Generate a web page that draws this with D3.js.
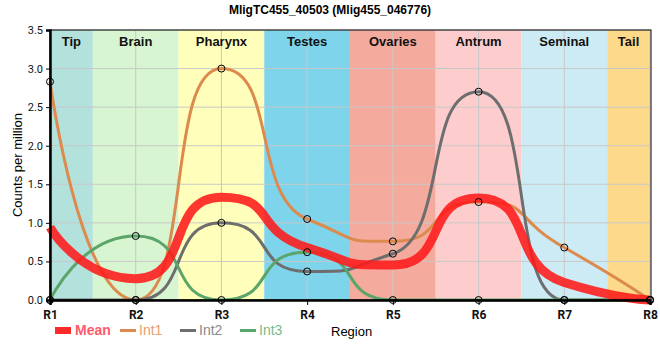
<!DOCTYPE html>
<html>
<head>
<meta charset="utf-8">
<title>MligTC455_40503</title>
<script src="https://d3js.org/d3.v7.min.js"></script>
<style>
  body { margin: 0; background: #fff; }
  text { font-family: "Liberation Sans", Arial, sans-serif; }
  .tick text { font-family: Roboto, "Liberation Sans", sans-serif; }
</style>
</head>
<body>
<script>
    // data
    let regions = ["R1", "R2", "R3", "R4", "R5", "R6", "R7", "R8"];
    let int1 = [2.83, 0.0, 3.0, 1.05, 0.76, 1.27, 0.68, 0.0];
    let int2 = [0.0, 0.0, 1.0, 0.37, 0.60, 2.70, 0.0, 0.0];
    let int3 = [0.0, 0.83, 0.0, 0.62, 0.0, 0.0, 0.0, 0.0];
    let mean = regions.map((r, i) => (int1[i] + int2[i] + int3[i]) / 3);

    let tissues = ["Tip", "Brain", "Pharynx", "Testes", "Ovaries", "Antrum", "Seminal", "Tail"];
    let tissueStart = [1, 1.5, 2.5, 3.5, 4.5, 5.5, 6.5, 7.5];
    let tissueEnd = [1.5, 2.5, 3.5, 4.5, 5.5, 6.5, 7.5, 8];
    let tissueColors = ["#b3e2dd", "#d6f5d0", "#ffffbb", "#7dd4eb", "#f4ab9d", "#fdcdcd", "#cdebf5", "#fdda8b"];

    let yTicks = [0, 0.5, 1, 1.5, 2, 2.5, 3, 3.5];

    let series = [
        {name: "Int1", values: int1, color: "#dd8a4e", text: "#e8a06e"},
        {name: "Int2", values: int2, color: "#6e6e6e", text: "#8a8a8a"},
        {name: "Int3", values: int3, color: "#5ba46a", text: "#7cb88a"}
    ];

    let width = 660, height = 360;
    let mLeft = 50, mRight = 650, mTop = 30, mBottom = 300;
    let handle = 0.65;   // control point distance, share of the step

    let svg = d3.select("body").append("svg")
        .attr("width", width)
        .attr("height", height);

    let x = d3.scaleLinear().domain([1, 8]).range([mLeft, mRight]);
    let y = d3.scaleLinear().domain([0, 3.5]).range([mBottom, mTop]);

    // smooth spline, control points kept between neighbours so peaks stay on the points
    function spline(values) {
        let pts = values.map((v, i) => [x(i + 1), y(v)]);
        let n = pts.length, lc = [], rc = [];
        rc[0] = pts[0];
        lc[n - 1] = pts[n - 1];
        for (let i = 1; i < n - 1; i++) {
            let [ax, ay] = pts[i - 1], [px, py] = pts[i], [bx, by] = pts[i + 1];
            let lx = px - handle * (px - ax), rx = px + handle * (bx - px);
            let slope = (by - ay) / (bx - ax);
            let ly = py - slope * (px - lx), ry = py + slope * (rx - px);
            if (ly > ay && ly > py) { ly = Math.max(ay, py); ry = 2 * py - ly; }
            else if (ly < ay && ly < py) { ly = Math.min(ay, py); ry = 2 * py - ly; }
            if (ry > by && ry > py) { ry = Math.max(by, py); ly = 2 * py - ry; }
            else if (ry < by && ry < py) { ry = Math.min(by, py); ly = 2 * py - ry; }
            lc[i] = [lx, ly];
            rc[i] = [rx, ry];
        }
        let p = d3.path();
        p.moveTo(pts[0][0], pts[0][1]);
        for (let i = 1; i < n; i++) {
            p.bezierCurveTo(rc[i - 1][0], rc[i - 1][1], lc[i][0], lc[i][1], pts[i][0], pts[i][1]);
        }
        return p.toString();
    }

    // tissue bands
    svg.append("g")
        .selectAll("rect")
        .data(tissues)
        .join("rect")
            .attr("x", (d, i) => x(tissueStart[i]))
            .attr("y", mTop)
            .attr("width", (d, i) => x(tissueEnd[i]) - x(tissueStart[i]))
            .attr("height", mBottom - mTop)
            .attr("fill", (d, i) => tissueColors[i]);

    // grid
    svg.append("g")
        .selectAll("line")
        .data(yTicks)
        .join("line")
            .attr("x1", mLeft).attr("x2", mRight)
            .attr("y1", d => y(d)).attr("y2", d => y(d))
            .attr("stroke", "#c8c8c8").attr("stroke-width", 1);
    svg.append("g")
        .selectAll("line")
        .data(regions)
        .join("line")
            .attr("x1", (d, i) => x(i + 1)).attr("x2", (d, i) => x(i + 1))
            .attr("y1", mTop).attr("y2", mBottom)
            .attr("stroke", "#c8c8c8").attr("stroke-width", 1);

    // band labels
    svg.append("g")
        .selectAll("text")
        .data(tissues)
        .join("text")
            .attr("x", (d, i) => (x(tissueStart[i]) + x(tissueEnd[i])) / 2)
            .attr("y", 46)
            .attr("text-anchor", "middle")
            .style("font-size", "13px")
            .style("font-weight", "bold")
            .attr("fill", "#111")
            .text(d => d);

    svg.append("g")
        .selectAll("path")
        .data(series)
        .join("path")
            .attr("d", d => spline(d.values))
            .attr("fill", "none")
            .attr("stroke", d => d.color)
            .attr("stroke-width", 3);

    svg.append("path")
        .attr("d", spline(mean))
        .attr("fill", "none")
        .attr("stroke", "#ff1a1a")
        .attr("stroke-opacity", 0.88)
        .attr("stroke-width", 9);

    // frame
    svg.append("rect")
        .attr("x", mLeft).attr("y", mTop)
        .attr("width", mRight - mLeft + 1).attr("height", mBottom - mTop)
        .attr("fill", "none").attr("stroke", "#000").attr("stroke-width", 1);

    // axes
    let xAxis = svg.append("g")
        .attr("transform", `translate(0,${mBottom})`)
        .call(d3.axisBottom(x).tickValues(d3.range(1, 9)).tickFormat((d, i) => regions[i]).tickSize(5));
    xAxis.select(".domain").attr("stroke-width", 2.5);
    xAxis.selectAll(".tick text").style("font-size", "12px").style("font-weight", "bold").attr("fill", "#111").attr("dy", "0.9em");

    let yAxis = svg.append("g")
        .attr("transform", `translate(${mLeft},0)`)
        .call(d3.axisLeft(y).tickValues(yTicks).tickFormat(d3.format(".1f")).tickSize(4));
    yAxis.select(".domain").attr("stroke-width", 2.5);
    yAxis.selectAll(".tick text").style("font-size", "11px").attr("fill", "#111");

    // points
    series.forEach(s => {
        svg.append("g")
            .selectAll("circle")
            .data(s.values)
            .join("circle")
                .attr("cx", (d, i) => x(i + 1))
                .attr("cy", d => y(d))
                .attr("r", 3.5)
                .attr("fill", "none")
                .attr("stroke", "#000")
                .attr("stroke-width", 1);
    });

    // title and axis titles
    svg.append("text")
        .attr("x", 330).attr("y", 14)
        .attr("text-anchor", "middle")
        .style("font-size", "12px").style("font-weight", "bold")
        .text("MligTC455_40503 (Mlig455_046776)");

    svg.append("text")
        .attr("transform", "translate(22,165) rotate(-90)")
        .attr("text-anchor", "middle")
        .style("font-size", "13px")
        .text("Counts per million");

    svg.append("text")
        .attr("x", 331).attr("y", 336)
        .style("font-size", "13px")
        .text("Region");

    // legend
    let legend = svg.append("g");
    legend.append("rect")
        .attr("x", 55).attr("y", 327).attr("width", 16).attr("height", 7)
        .attr("fill", "#ff2a2a");
    legend.append("text")
        .attr("x", 75).attr("y", 335)
        .style("font-size", "14px").style("font-weight", "bold")
        .attr("fill", "#ff5a6a")
        .text("Mean");
    let lx = [120, 180, 240];
    series.forEach((s, i) => {
        legend.append("line")
            .attr("x1", lx[i]).attr("x2", lx[i] + 16)
            .attr("y1", 330.5).attr("y2", 330.5)
            .attr("stroke", s.color).attr("stroke-width", 3);
        legend.append("text")
            .attr("x", lx[i] + 19).attr("y", 335)
            .style("font-size", "14px")
            .attr("fill", s.text)
            .text(s.name);
    });
</script>
</body>
</html>
